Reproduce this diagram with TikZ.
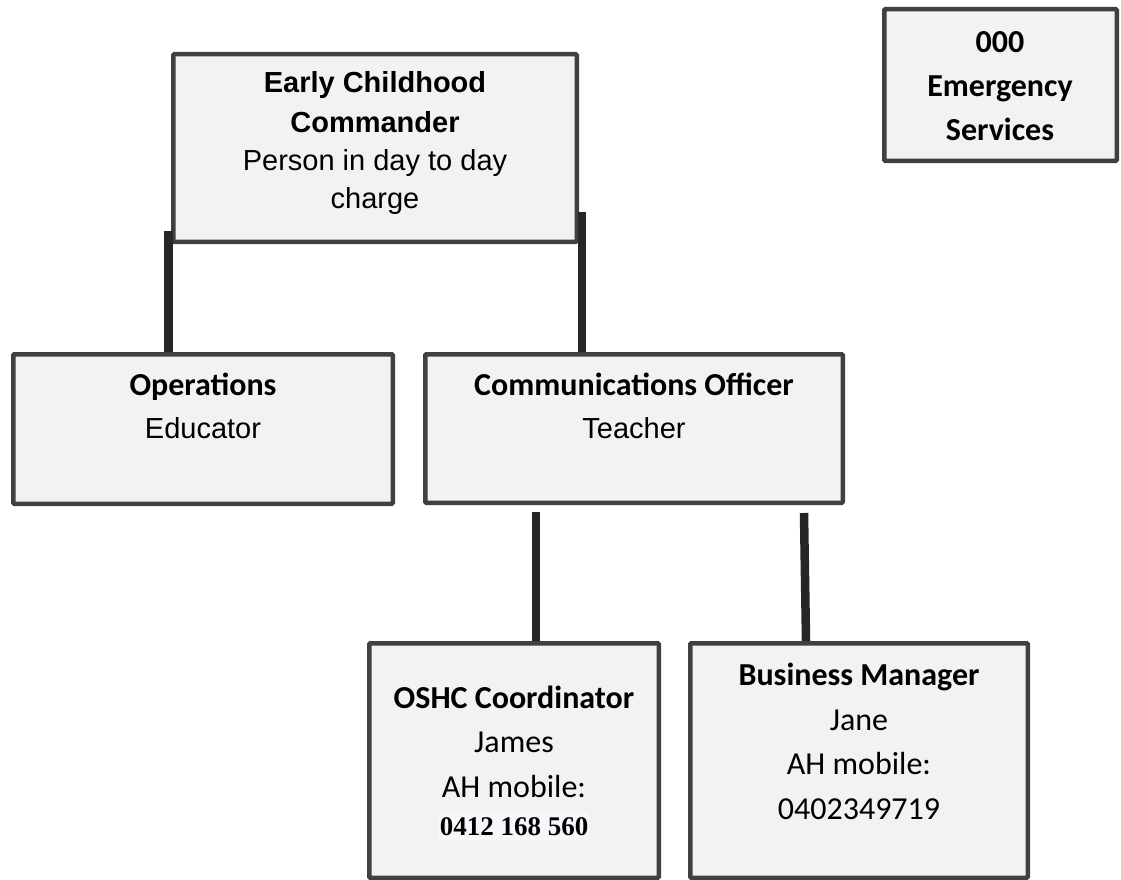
\documentclass[tikz,border=0pt]{standalone}
\usepackage{fontspec}
\setmainfont{Liberation Sans}
\newfontfamily\calfont{Carlito}
\newfontfamily\timesfont{Liberation Serif}
\usetikzlibrary{calc}
\definecolor{bordergray}{RGB}{64,64,64}
\definecolor{boxfill}{RGB}{242,242,242}
\definecolor{linegray}{RGB}{38,38,38}
\definecolor{hlfill}{RGB}{246,247,251}
\tikzset{
  orgbox/.style={draw=bordergray, fill=boxfill, line width=4.5pt, inner sep=0pt, rectangle, rounded corners=1pt},
  conn/.style={draw=linegray, line width=8.5pt, line cap=butt},
  tl/.style={anchor=base, inner sep=0pt},
  ariR/.style={font=\fontsize{29}{29}\selectfont},
  ariB/.style={font=\fontsize{29}{29}\selectfont\bfseries},
  calB/.style={font=\calfont\fontsize{32}{32}\selectfont\bfseries},
  calR/.style={font=\calfont\fontsize{32}{32}\selectfont},
}
\begin{document}
\begin{tikzpicture}[x=1pt,y=-1pt]
\useasboundingbox (0,0) rectangle (1121,880);

% boxes
\node[orgbox, minimum width=403.5pt, minimum height=187.5pt] (ecc) at (375,148) {};
\node[orgbox, minimum width=232.5pt, minimum height=151.5pt] (ems) at (1000.5,85) {};
\node[orgbox, minimum width=379.5pt, minimum height=149.5pt] (ops) at (203,429) {};
\node[orgbox, minimum width=417.5pt, minimum height=148.5pt] (comms) at (634,428.5) {};
\node[orgbox, minimum width=289.5pt, minimum height=234.5pt] (oshc) at (514,760.5) {};
\node[orgbox, minimum width=337.5pt, minimum height=234.5pt] (bm) at (859,760.5) {};

% Early Childhood Commander text
\node[tl, ariB] (ecc1) at (375,93) {Early Childhood};
\node[tl, ariB] (ecc2) at (375,132) {Commander};
\node[tl, ariR] (ecc3) at (375,170) {Person in day to day};
\node[tl, ariR] (ecc4) at (375,208) {charge};

% 000 Emergency Services
\node[tl, calB] (ems1) at (1000,53) {000};
\node[tl, calB] (ems2) at (1000,97) {Emergency};
\node[tl, calB] (ems3) at (1000,140) {Services};

% Operations
\node[tl, calB] (ops1) at (203,395) {Operations};
\node[tl, ariR] (ops2) at (203,438) {Educator};

% Communications Officer
\node[tl, calB] (comms1) at (634,395) {Communications Officer};
\node[tl, ariR] (comms2) at (634,438) {Teacher};

% OSHC Coordinator
\node[tl, calB] (oshc1) at (514,708) {OSHC Coordinator};
\node[tl, calR] (oshc2) at (514,752) {James};
\node[tl, calR] (oshc3) at (514,797) {AH mobile:};
\node[tl, fill=hlfill, text height=23pt, text depth=5pt, inner xsep=1pt,
      font=\timesfont\fontsize{27}{27}\selectfont\bfseries] (oshc4) at (514,835) {0412 168 560};

% Business Manager
\node[tl, calB] (bm1) at (859,685) {Business Manager};
\node[tl, calR] (bm2) at (859,730) {Jane};
\node[tl, calR] (bm3) at (859,774) {AH mobile:};
\node[tl, calR] (bm4) at (859,819) {0402349719};

% connectors
\coordinate (c1) at ([xshift=-2.5pt,yshift=13pt]ecc.south west);
\coordinate (c2) at ([xshift=2.75pt,yshift=32pt]ecc.south east);
\coordinate (c3) at (536,512);
\coordinate (c4) at (804,513);
\draw[conn] (c1) -- (c1 |- ops.north);
\draw[conn] (c2) -- (c2 |- comms.north);
\draw[conn] (c3) -- (c3 |- oshc.north);
\draw[conn] (c4) -- ([xshift=-53pt]bm.north);
\end{tikzpicture}
\end{document}
